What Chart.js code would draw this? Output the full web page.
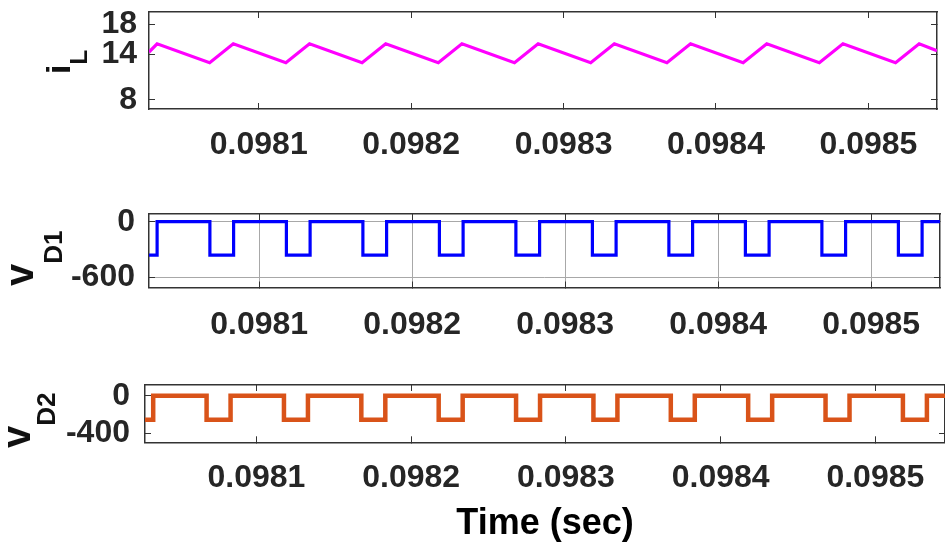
<!DOCTYPE html>
<html>
<head>
<meta charset="utf-8">
<script src="https://cdn.jsdelivr.net/npm/chart.js@4/dist/chart.umd.min.js"></script>
<style>
  body { margin: 0; background: #fff; }
  #wrap { position: relative; width: 945px; height: 554px; overflow: hidden; }
  canvas { position: absolute; left: 0; }
</style>
</head>
<body>
<div id="wrap">
  <canvas id="c1" width="945" height="175" style="top:0px"></canvas>
  <canvas id="c2" width="945" height="175" style="top:175px"></canvas>
  <canvas id="c3" width="945" height="204" style="top:350px"></canvas>
</div>
<script>
// time of each corner / switching edge (sec)
const time = [0.0980280, 0.0980333, 0.0980678, 0.0980833, 0.0981178, 0.0981333, 0.0981678, 0.0981833,
  0.0982178, 0.0982333, 0.0982678, 0.0982833, 0.0983178, 0.0983333, 0.0983678, 0.0983833,
  0.0984178, 0.0984333, 0.0984678, 0.0984833, 0.0985178, 0.0985333, 0.0985450];
// inductor current (A)
const iL = [14.3, 15.4, 12.9, 15.4, 12.9, 15.4, 12.9, 15.4, 12.9, 15.4, 12.9, 15.4,
  12.9, 15.4, 12.9, 15.4, 12.9, 15.4, 12.9, 15.4, 12.9, 15.4, 14.5];
// diode voltages (V), value holds from its time until the next edge
const vD1 = [-360, 0, -360, 0, -360, 0, -360, 0, -360, 0, -360, 0,
  -360, 0, -360, 0, -360, 0, -360, 0, -360, 0, 0];
const vD2 = [-255, 0, -255, 0, -255, 0, -255, 0, -255, 0, -255, 0,
  -255, 0, -255, 0, -255, 0, -255, 0, -255, 0, 0];

const xTicks = [0.0981, 0.0982, 0.0983, 0.0984, 0.0985];
const iLTicks = [8, 14, 18];
const vD1Ticks = [-600, 0];
const vD2Ticks = [-400, 0];

const X_MIN = 0.098028, X_MAX = 0.098545;
const FONT = "'Liberation Sans', Arial, Helvetica, sans-serif";
const TXT = "#262626";

// rotated y label with subscript (i_L, v_D1 ...)
const yLabelPlugin = {
  id: "ylab",
  afterDraw(chart, args, o) {
    const ctx = chart.ctx;
    ctx.save();
    ctx.translate(o.x, o.y);
    ctx.rotate(-Math.PI / 2);
    ctx.fillStyle = "#111";
    ctx.textBaseline = "alphabetic";
    ctx.textAlign = "left";
    ctx.font = "bold " + o.mainSize + "px " + FONT;
    ctx.fillText(o.main, 0, 0);
    const w = ctx.measureText(o.main).width;
    ctx.font = "bold " + o.subSize + "px " + FONT;
    ctx.fillText(o.sub, w, o.subDy);
    ctx.restore();
  }
};

function pts(ys) {
  return time.map((t, i) => ({ x: t, y: ys[i] }));
}

// fixed box sizes, no extra room for overflowing tick labels
function fixSize(s, w, h) {
  if (w !== null) s.width = w;
  if (h !== null) s.height = h;
  s.paddingTop = s.paddingBottom = s.paddingLeft = s.paddingRight = 0;
}

function makePanel(id, p) {
  const setTicks = arr => s => { s.ticks = arr.map(v => ({ value: v })); };
  new Chart(document.getElementById(id), {
    type: "line",
    data: {
      datasets: [{
        data: pts(p.values),
        borderColor: p.color,
        borderWidth: p.lineWidth,
        pointRadius: 0,
        stepped: p.stepped,
        tension: 0,
        borderJoinStyle: "miter"
      }]
    },
    options: {
      responsive: false,
      animation: false,
      events: [],
      layout: { padding: { left: 0, right: p.padRight, top: p.padTop, bottom: 0 } },
      plugins: {
        legend: { display: false },
        tooltip: { enabled: false },
        ylab: p.ylab
      },
      scales: {
        x: {
          type: "linear",
          min: X_MIN, max: X_MAX,
          afterBuildTicks: setTicks(xTicks),
          afterFit: s => fixSize(s, null, p.xHeight),
          border: { color: "#333", width: 1.5 },
          grid: {
            drawOnChartArea: p.grid, color: "#a8a8a8", lineWidth: 1,
            drawTicks: true, tickLength: -6, tickColor: "#333"
          },
          ticks: {
            autoSkip: false, maxRotation: 0, minRotation: 0,
            padding: p.xPad, color: TXT,
            font: { family: FONT, size: 32, weight: "bold" },
            callback: v => v.toFixed(4)
          },
          title: p.xTitle ? {
            display: true, text: p.xTitle, color: "#000",
            font: { family: FONT, size: 36, weight: "bold" },
            padding: { top: 0, bottom: 8 }
          } : { display: false }
        },
        x2: {
          type: "linear", position: "top",
          min: X_MIN, max: X_MAX,
          afterBuildTicks: setTicks(xTicks),
          afterFit: s => fixSize(s, null, 0),
          border: { color: "#333", width: 1.5 },
          grid: { drawOnChartArea: false, drawTicks: true, tickLength: -6, tickColor: "#333" },
          ticks: { display: false }
        },
        y: {
          type: "linear",
          min: p.yMin, max: p.yMax,
          afterBuildTicks: setTicks(p.yTicks),
          afterFit: s => fixSize(s, p.left, null),
          border: { color: "#333", width: 1.5 },
          grid: {
            drawOnChartArea: p.grid, color: "#a8a8a8", lineWidth: 1,
            drawTicks: true, tickLength: -6, tickColor: "#333"
          },
          ticks: {
            autoSkip: false, padding: p.yPad, color: TXT,
            font: { family: FONT, size: 32, weight: "bold" }
          }
        },
        y2: {
          type: "linear", position: "right",
          min: p.yMin, max: p.yMax,
          afterBuildTicks: setTicks(p.yTicks),
          afterFit: s => fixSize(s, 0, null),
          border: { color: "#333", width: 1.5 },
          grid: { drawOnChartArea: false, drawTicks: true, tickLength: -6, tickColor: "#333" },
          ticks: { display: false }
        }
      }
    },
    plugins: [yLabelPlugin]
  });
}

makePanel("c1", {
  values: iL, color: "#ff00ff", lineWidth: 3.2, stepped: false,
  yMin: 6.8, yMax: 19.6, yTicks: iLTicks,
  left: 149, padRight: 8, padTop: 12, xHeight: 66,
  xPad: 23, yPad: 18, grid: false,
  ylab: { main: "i", sub: "L", x: 70, y: 74, mainSize: 34, subSize: 24, subDy: 17 }
});

makePanel("c2", {
  values: vD1, color: "#0000ff", lineWidth: 3.2, stepped: true,
  yMin: -710, yMax: 83, yTicks: vD1Ticks,
  left: 149, padRight: 5, padTop: 39, xHeight: 62.5,
  xPad: 24, yPad: 20, grid: true,
  ylab: { main: "v", sub: "D1", x: 33, y: 286 - 175, mainSize: 40, subSize: 26, subDy: 29 }
});

makePanel("c3", {
  values: vD2, color: "#d95319", lineWidth: 4.5, stepped: true,
  yMin: -496, yMax: 114, yTicks: vD2Ticks,
  left: 145, padRight: 0, padTop: 35, xHeight: 111.7,
  xPad: 23, yPad: 21, grid: false, xTitle: "Time (sec)",
  ylab: { main: "v", sub: "D2", x: 30, y: 448 - 350, mainSize: 40, subSize: 26, subDy: 25 }
});
</script>
</body>
</html>
